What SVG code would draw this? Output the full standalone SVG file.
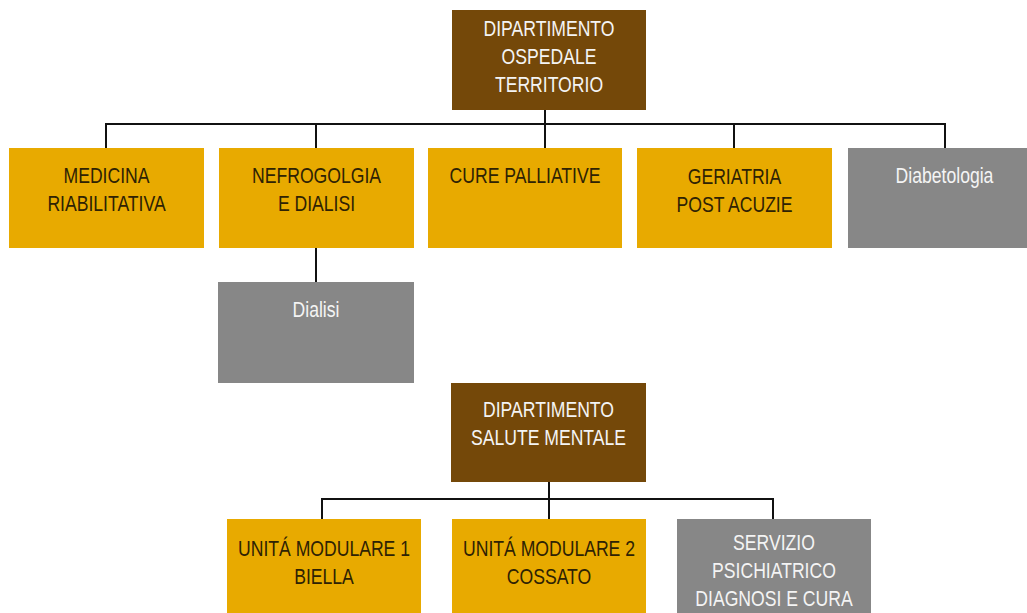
<svg xmlns="http://www.w3.org/2000/svg" width="1027" height="613" viewBox="0 0 1027 613">
<style>
.brown{fill:#744809}
.yellow{fill:#e8aa00}
.gray{fill:#878787}
text{font-family:"Liberation Sans",Arial,sans-serif;font-size:22px;text-anchor:middle}
.dark{fill:#2e2204}
.light{fill:#f4f4f4}
.conn{stroke:#111;stroke-width:2;fill:none}
</style>
<rect width="1027" height="613" fill="#ffffff"/>
<g id="connectors" class="conn">
<path d="M545 110V148M106 148V124H945V148M316 124V148M734 124V148"/>
<path d="M316 248V282"/>
<path d="M549 482V519M322 519V499H773V519"/>
</g>
<g id="dip-ospedale">
<rect class="brown" x="452" y="10" width="194" height="100"/>
<text class="light" transform="translate(549 36) scale(0.8 1)">DIPARTIMENTO</text>
<text class="light" transform="translate(549 64) scale(0.8 1)">OSPEDALE</text>
<text class="light" transform="translate(549 92) scale(0.8 1)">TERRITORIO</text>
</g>
<g id="medicina">
<rect class="yellow" x="9" y="148" width="195" height="100"/>
<text class="dark" transform="translate(106.5 183) scale(0.8 1)">MEDICINA</text>
<text class="dark" transform="translate(106.5 211) scale(0.8 1)">RIABILITATIVA</text>
</g>
<g id="nefro">
<rect class="yellow" x="219" y="148" width="195" height="100"/>
<text class="dark" transform="translate(316.5 183) scale(0.8 1)">NEFROGOLGIA</text>
<text class="dark" transform="translate(316.5 211) scale(0.8 1)">E DIALISI</text>
</g>
<g id="cure">
<rect class="yellow" x="428" y="148" width="194" height="100"/>
<text class="dark" transform="translate(525 183) scale(0.8 1)">CURE PALLIATIVE</text>
</g>
<g id="geriatria">
<rect class="yellow" x="637" y="148" width="195" height="100"/>
<text class="dark" transform="translate(734.5 184) scale(0.8 1)">GERIATRIA</text>
<text class="dark" transform="translate(734.5 212) scale(0.8 1)">POST ACUZIE</text>
</g>
<g id="diabetologia">
<rect class="gray" x="848" y="148" width="193" height="100"/>
<text class="light" transform="translate(944.5 183) scale(0.8 1)">Diabetologia</text>
</g>
<g id="dialisi">
<rect class="gray" x="218" y="282" width="196" height="101"/>
<text class="light" transform="translate(316 317) scale(0.8 1)">Dialisi</text>
</g>
<g id="dip-salute">
<rect class="brown" x="451" y="383" width="195" height="99"/>
<text class="light" transform="translate(548.5 417) scale(0.8 1)">DIPARTIMENTO</text>
<text class="light" transform="translate(548.5 445) scale(0.8 1)">SALUTE MENTALE</text>
</g>
<g id="um1">
<rect class="yellow" x="227" y="519" width="194" height="100"/>
<text class="dark" transform="translate(324 556) scale(0.8 1)">UNITÁ MODULARE 1</text>
<text class="dark" transform="translate(324 584) scale(0.8 1)">BIELLA</text>
</g>
<g id="um2">
<rect class="yellow" x="452" y="519" width="194" height="100"/>
<text class="dark" transform="translate(549 556) scale(0.8 1)">UNITÁ MODULARE 2</text>
<text class="dark" transform="translate(549 584) scale(0.8 1)">COSSATO</text>
</g>
<g id="spdc">
<rect class="gray" x="677" y="519" width="194" height="100"/>
<text class="light" transform="translate(774 550) scale(0.8 1)">SERVIZIO</text>
<text class="light" transform="translate(774 578) scale(0.8 1)">PSICHIATRICO</text>
<text class="light" transform="translate(774 606) scale(0.8 1)">DIAGNOSI E CURA</text>
</g>
</svg>
